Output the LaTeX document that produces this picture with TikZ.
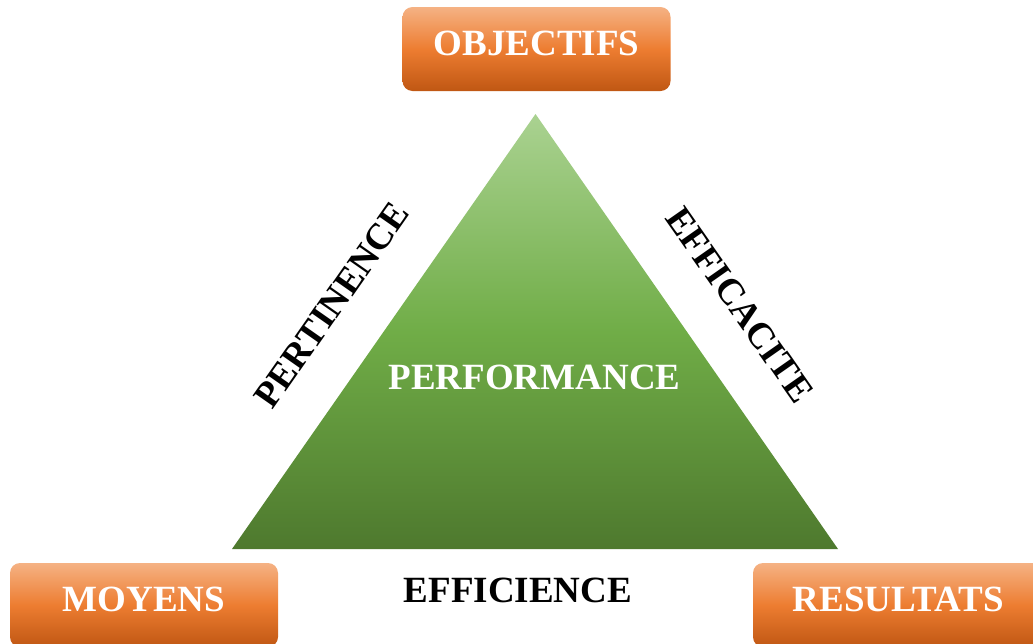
\documentclass[tikz,border=0pt]{standalone}
\usepackage{fontspec}
\setmainfont{Liberation Serif}
\usepackage{tikz}
\definecolor{orhaut}{RGB}{245,178,132}
\definecolor{ormilieu}{RGB}{237,125,49}
\definecolor{orbas}{RGB}{192,87,19}
\definecolor{verthaut}{RGB}{170,210,145}
\definecolor{vertmilieu}{RGB}{112,173,71}
\definecolor{vertbas}{RGB}{78,121,46}
\newcommand{\grand}{\fontsize{37}{44}\selectfont\bfseries}
\tikzset{
    cadre/.style={rounded corners=10pt, top color=orhaut, bottom color=orbas, middle color=ormilieu,
        minimum height=84pt, inner sep=0pt, text height=25pt, text depth=13pt, font=\grand, text=white},
    mot/.style={font=\grand, inner sep=0pt}
}

\begin{document}
\begin{tikzpicture}[x=1pt,y=-1pt]
                \useasboundingbox (0,0) rectangle (1033,643);
                \clip (0,0) rectangle (1033,643);
                \coordinate (sommet) at (535.5,114);
                \coordinate (gauche) at (232,549);
                \coordinate (droite) at (838,549);
                \shade[top color=verthaut, bottom color=vertbas, middle color=vertmilieu] (sommet) -- (droite) -- (gauche) -- cycle;
                \node[cadre, minimum width=268pt] (obj) at (536.5,49) {OBJECTIFS};
                \node[cadre, minimum width=268pt] (moy) at (144,605) {MOYENS};
                \node[cadre, minimum width=291pt] (res) at (898.5,605) {RESULTATS};
                \node[mot, text=white] (perf) at (534.5,377) {PERFORMANCE};
                \node[mot] (effi) at (518,590) {EFFICIENCE};
                \node[mot, rotate=55] (pert) at (332,305) {PERTINENCE};
                \node[mot, rotate=-55] (effa) at (740,305) {EFFICACITE};
            \end{tikzpicture}
\end{document}
